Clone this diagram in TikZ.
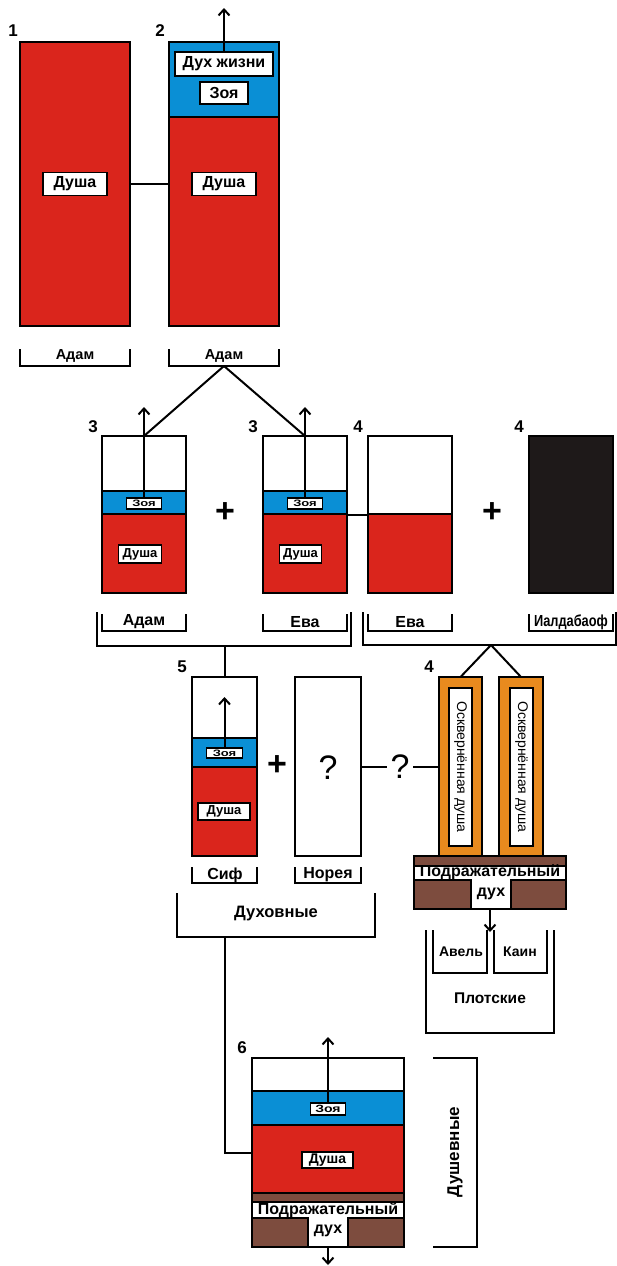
\documentclass[tikz,border=0pt]{standalone}
\usepackage{fontspec}
\setmainfont{Liberation Sans}
\usetikzlibrary{arrows.meta}
\definecolor{cred}{RGB}{218,37,28}
\definecolor{cblue}{RGB}{10,143,213}
\definecolor{corange}{RGB}{232,138,30}
\definecolor{cbrown}{RGB}{125,76,62}
\definecolor{cblack}{RGB}{30,25,25}
\newcommand\myfs[1]{\fontsize{#1}{#1}\selectfont\bfseries}
\newcommand\myrg[1]{\fontsize{#1}{#1}\selectfont}
\begin{document}
\begin{tikzpicture}[x=1pt,y=-1pt,line width=2pt,
  box/.style={draw,line width=2pt,inner sep=0pt,outer sep=0pt,anchor=north west},
  lab/.style={draw,fill=white,line width=1.6pt,inner sep=0pt,outer sep=0pt},
  txt/.style={inner sep=0pt},
  num/.style={inner sep=0pt,font=\myfs{17}},
  plus/.style={inner sep=0pt,font=\myfs{34}},
  arr/.style={-{Straight Barb[length=6pt,width=11pt]},line width=2pt}]
\useasboundingbox (0,0) rectangle (617,1266);
% ---------- row 1
\node[num] (n1) at (13,31) {1};
\node[num] (n2) at (160,31) {2};
\node[box,fill=cred,minimum width=110pt,minimum height=284pt] (b1) at (20,42) {};
\fill[cred] (169,117) rectangle (279,326);
\fill[cblue] (169,42) rectangle (279,117);
\draw (169,117) -- (279,117);
\node[box,minimum width=110pt,minimum height=284pt] (b2) at (169,42) {};
\node[lab,minimum width=98pt,minimum height=24pt,font=\myfs{16}] (dz) at (224,64) {Дух жизни};
\node[lab,minimum width=48pt,minimum height=22pt,font=\myfs{16}] (z2) at (224,93) {Зоя};
\node[lab,minimum width=64pt,minimum height=23pt,font=\myfs{16}] (d1) at (75,184) {Душа};
\node[lab,minimum width=64pt,minimum height=23pt,font=\myfs{16}] (d2) at (224,184) {Душа};
\draw[arr] (dz.north) -- ++(0,-44);
\draw (b1.east) -- (b2.west);
\draw (20,349) -- (20,366) -- (130,366) -- (130,349);
\node[txt,font=\myfs{14.5}] (a1) at (75,356) {Адам};
\draw (169,349) -- (169,366) -- (279,366) -- (279,349);
\node[txt,font=\myfs{14.5}] (a2) at (224,356) {Адам};
\coordinate (adamB) at (224,366);
% ---------- row 2
\node[num] (n3a) at (93,427) {3};
\node[num] (n3b) at (253,427) {3};
\node[num] (n4a) at (358,427) {4};
\node[num] (n4b) at (519,427) {4};
% 3a
\fill[cblue] (102,491) rectangle (186,514);
\fill[cred] (102,514) rectangle (186,593);
\draw (102,491) -- (186,491);
\draw (102,514) -- (186,514);
\node[box,minimum width=84pt,minimum height=157pt] (b3a) at (102,436) {};
\node[lab,minimum width=35pt,minimum height=11pt,line width=1.3pt,font=\myfs{13}] (z3a) at (144,503.5) {\scalebox{1}[0.72]{Зоя}};
\node[lab,minimum width=43pt,minimum height=18pt,font=\myfs{13}] (d3a) at (140,554) {Душа};
% 3b
\fill[cblue] (263,491) rectangle (347,514);
\fill[cred] (263,514) rectangle (347,593);
\draw (263,491) -- (347,491);
\draw (263,514) -- (347,514);
\node[box,minimum width=84pt,minimum height=157pt] (b3b) at (263,436) {};
\node[lab,minimum width=35pt,minimum height=11pt,line width=1.3pt,font=\myfs{13}] (z3b) at (305,503.5) {\scalebox{1}[0.72]{Зоя}};
\node[lab,minimum width=42pt,minimum height=18pt,font=\myfs{13}] (d3b) at (300.5,554) {Душа};
% 4 Eva
\fill[cred] (368,514) rectangle (452,593);
\draw (368,514) -- (452,514);
\node[box,minimum width=84pt,minimum height=157pt] (b4) at (368,436) {};
% 4 Ialdabaoth
\node[box,fill=cblack,minimum width=84pt,minimum height=157pt] (bk) at (529,436) {};
\node[plus] (p1) at (225,513) {+};
\node[plus] (p2) at (492,513) {+};
\draw[arr] (z3a.north) -- ++(0,-91);
\draw[arr] (z3b.north) -- ++(0,-91);
\draw (adamB) -- (b3a.north);
\draw (adamB) -- (b3b.north);
\draw (b3b.east) -- (b4.west);
% brackets row 2
\draw (102,614) -- (102,631) -- (186,631) -- (186,614);
\node[txt,font=\myfs{16}] (a3) at (144,622) {Адам};
\draw (263,614) -- (263,631) -- (347,631) -- (347,614);
\node[txt,font=\myfs{16}] (e3) at (305,622) {Ева};
\draw (97,612) -- (97,646) -- (351,646) -- (351,612);
\draw (368,614) -- (368,631) -- (452,631) -- (452,614);
\node[txt,font=\myfs{16}] (e4) at (410,622) {Ева};
\draw (529,614) -- (529,631) -- (613,631) -- (613,614);
\node[txt,font=\myfs{16}] (ia) at (571,622) {\scalebox{0.8}[1]{Иалдабаоф}};
\draw (363,612) -- (363,645) -- (616,645) -- (616,612);
\coordinate (eiB) at (491,645);
% ---------- row 3
\node[num] (n5) at (182,667) {5};
\node[num] (n4c) at (429,667) {4};
\fill[cblue] (192,738) rectangle (257,767);
\fill[cred] (192,767) rectangle (257,856);
\draw (192,738) -- (257,738);
\draw (192,767) -- (257,767);
\node[box,minimum width=65pt,minimum height=179pt] (bs) at (192,677) {};
\coordinate (aeB) at (bs.north |- 0,646);
\node[lab,minimum width=36pt,minimum height=10pt,line width=1.3pt,font=\myfs{13}] (zs) at (224.5,753) {\scalebox{1}[0.72]{Зоя}};
\node[lab,minimum width=52pt,minimum height=17pt,font=\myfs{13}] (ds) at (224,811.5) {Душа};
\draw[arr] (zs.north) -- ++(0,-51);
\node[box,minimum width=66pt,minimum height=179pt] (bn) at (295,677) {};
\node[txt,font=\myrg{34}] (qn) at (328,768) {?};
\node[plus] (p3) at (277,766) {+};
\draw (aeB) -- (bs.north);
% orange
\node[box,fill=corange,minimum width=43pt,minimum height=179pt] (o1) at (439,677) {};
\node[box,fill=white,minimum width=23pt,minimum height=158pt] (o1i) at (449,688) {};
\node[box,fill=corange,minimum width=44pt,minimum height=179pt] (o2) at (499,677) {};
\node[box,fill=white,minimum width=23pt,minimum height=158pt] (o2i) at (510,688) {};
\node[txt,rotate=-90,font=\myrg{14}] (ot1) at (460.5,767) {Осквернённая душа};
\node[txt,rotate=-90,font=\myrg{14}] (ot2) at (521.5,767) {Осквернённая душа};
\draw (eiB) -- (o1.north);
\draw (eiB) -- (o2.north);
\node[txt,font=\myrg{34},inner xsep=3pt] (q) at (bn.east -| 400,0) {?};
\draw (bn.east) -- (q.west);
\draw (q.east) -- (o1.west);
% base
\fill[cbrown] (414,856) rectangle (566,909);
\fill[white] (414,866) rectangle (566,880);
\fill[white] (471,880) rectangle (511,909);
\draw (414,866) -- (566,866);
\draw (414,880) -- (471,880) -- (471,909);
\draw (566,880) -- (511,880) -- (511,909);
\node[box,minimum width=152pt,minimum height=53pt] (base) at (414,856) {};
\node[txt,font=\myfs{16}] (pd1) at (490,872) {Подражательный};
\node[txt,font=\myfs{16}] (du1) at (491,894) {дух};
\draw[arr] (base.south) -- ++(0,23);
% brackets row 3
\draw (192,867) -- (192,883) -- (257,883) -- (257,867);
\node[txt,font=\myfs{16}] (sf) at (225,875) {Сиф};
\draw (295,867) -- (295,883) -- (361,883) -- (361,867);
\node[txt,font=\myfs{16}] (nr) at (328,875) {Норея};
\draw (177,893) -- (177,937) -- (375,937) -- (375,893);
\node[txt,font=\myfs{16.5}] (dh) at (276,914) {Духовные};
\draw (433,930) -- (433,973) -- (487,973) -- (487,930);
\node[txt,font=\myfs{14}] (av) at (461,952) {Авель};
\draw (494,930) -- (494,973) -- (547,973) -- (547,930);
\node[txt,font=\myfs{14}] (ka) at (520,952) {Каин};
\draw (426,930) -- (426,1033) -- (554,1033) -- (554,930);
\node[txt,font=\myfs{15.5}] (pl) at (490,998) {Плотские};
% ---------- row 4
\node[num] (n6) at (242,1048) {6};
\fill[cblue] (252,1091) rectangle (404,1125);
\fill[cred] (252,1125) rectangle (404,1193);
\fill[cbrown] (252,1193) rectangle (404,1247);
\fill[white] (252,1202) rectangle (404,1218);
\fill[white] (308,1218) rectangle (348,1247);
\draw (252,1091) -- (404,1091);
\draw (252,1125) -- (404,1125);
\draw (252,1193) -- (404,1193);
\draw (252,1202) -- (404,1202);
\draw (252,1218) -- (308,1218) -- (308,1247);
\draw (404,1218) -- (348,1218) -- (348,1247);
\node[box,minimum width=152pt,minimum height=189pt] (b6) at (252,1058) {};
\node[lab,minimum width=35pt,minimum height=12pt,line width=1.3pt,font=\myfs{14}] (z6) at (328,1109) {\scalebox{1}[0.75]{Зоя}};
\node[lab,minimum width=51pt,minimum height=16pt,font=\myfs{14}] (d6) at (327.5,1160) {Душа};
\node[txt,font=\myfs{16}] (pd2) at (328,1210) {Подражательный};
\node[txt,font=\myfs{16}] (du2) at (328,1231) {дух};
\draw[arr] (z6.north) -- ++(0,-66);
\draw[arr] (b6.south) -- ++(0,18);
\coordinate (dhB) at (225,937);
\draw (dhB) |- (b6.west);
\draw (433,1058) -- (477,1058) -- (477,1247) -- (433,1247);
\node[txt,rotate=90,font=\myfs{17}] (dv) at (455,1152) {Душевные};
\end{tikzpicture}
\end{document}
